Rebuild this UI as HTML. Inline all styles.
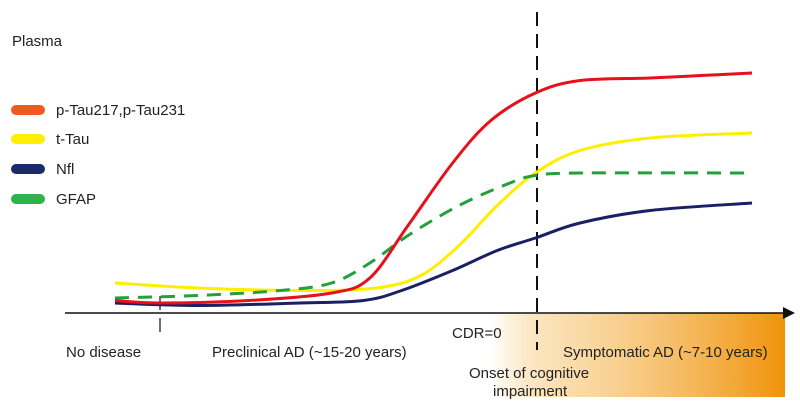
<!DOCTYPE html>
<html><head><meta charset="utf-8"><style>
body{margin:0;background:#fff;}
svg{display:block;font-family:"Liberation Sans",Arial,sans-serif;}
</style></head><body>
<svg id="chart" width="800" height="411" viewBox="0 0 800 411">
<defs><linearGradient id="og" x1="0" x2="1" y1="0" y2="0">
<stop offset="0" stop-color="#f39c12" stop-opacity="0"/><stop offset="0.2" stop-color="#f6c36e" stop-opacity="0.5"/><stop offset="1" stop-color="#f0930a"/></linearGradient></defs>
<rect x="492" y="313" width="293" height="84" fill="url(#og)"/>
<text x="12" y="46" font-size="15" fill="#222">Plasma</text>
<g font-size="15" fill="#222">
<g><line x1="16" y1="110" x2="40" y2="110" stroke="#ee5a24" stroke-width="10" stroke-linecap="round"/><text x="56" y="115">p-Tau217,p-Tau231</text></g>
<g><line x1="16" y1="139" x2="40" y2="139" stroke="#ffee00" stroke-width="10" stroke-linecap="round"/><text x="56" y="144">t-Tau</text></g>
<g><line x1="16" y1="169" x2="40" y2="169" stroke="#1a2a6c" stroke-width="10" stroke-linecap="round"/><text x="56" y="174">Nfl</text></g>
<g><line x1="16" y1="199" x2="40" y2="199" stroke="#2db34a" stroke-width="10" stroke-linecap="round"/><text x="56" y="204">GFAP</text></g>
</g>
<line x1="537" y1="12" x2="537" y2="350" stroke="#111" stroke-width="2" stroke-dasharray="14,8"/>
<line x1="160" y1="296" x2="160" y2="340" stroke="#111" stroke-width="1.2" stroke-dasharray="14,8"/>
<g id="series"></g>
<line x1="65" y1="313" x2="785" y2="313" stroke="#111" stroke-width="1.5"/>
<polygon points="795,313 783,307 783,319" fill="#111"/>
<g font-size="15" fill="#222">
<text x="66" y="357">No disease</text>
<text x="212" y="357">Preclinical AD (~15-20 years)</text>
<text x="452" y="338">CDR=0</text>
<text x="563" y="357">Symptomatic AD (~7-10 years)</text>
<text x="469" y="378">Onset of cognitive</text>
<text x="493" y="396">impairment</text>
</g>
</svg>
<script>
const redT=[0,7,21,34,40,46,53,59,66,73,84,92,100];
const redV=[5,4,5,8,14,35,60,77,88,93,94,95,96];
const yelT=[0,13,29,41,48,54,60,66,73,84,100];
const yelV=[12,10,9,10,15,27,43,56,65,70,72];
const navT=[0,13,29,39,45,53,60,66,73,84,100];
const navV=[4,3,4,5,9,17,25,30,36,41,44];
const grnT=[0,13,26,34,40,46,54,62,66,73,100];
const grnV=[6,7,9,12,20,31,43,52,55,56,56];
const xs=t=>115+t*6.37, ys=v=>313-v*2.5;
function path(T,V){
  const p=T.map((t,i)=>[xs(t),ys(V[i])]);
  let d='M'+p[0][0]+','+p[0][1];
  for(let i=0;i<p.length-1;i++){
    const p0=p[i-1]||p[i],p1=p[i],p2=p[i+1],p3=p[i+2]||p2;
    d+=' C'+(p1[0]+(p2[0]-p0[0])/6)+','+(p1[1]+(p2[1]-p0[1])/6)+' '+(p2[0]-(p3[0]-p1[0])/6)+','+(p2[1]-(p3[1]-p1[1])/6)+' '+p2[0]+','+p2[1];
  }
  return d;
}
const g=document.getElementById('series');
function add(name,T,V,col,dash){
  const el=document.createElementNS('http://www.w3.org/2000/svg','path');
  el.setAttribute('d',path(T,V));el.setAttribute('fill','none');
  el.setAttribute('stroke',col);el.setAttribute('stroke-width','3');
  if(dash)el.setAttribute('stroke-dasharray',dash);
  
  
  g.appendChild(el);
}
add('line-ttau',yelT,yelV,'#ffee00');
add('line-nfl',navT,navV,'#1a1f66');
add('line-gfap',grnT,grnV,'#23a03c','14,9');
add('line-ptau',redT,redV,'#e8101a');
</script>
</body></html>
